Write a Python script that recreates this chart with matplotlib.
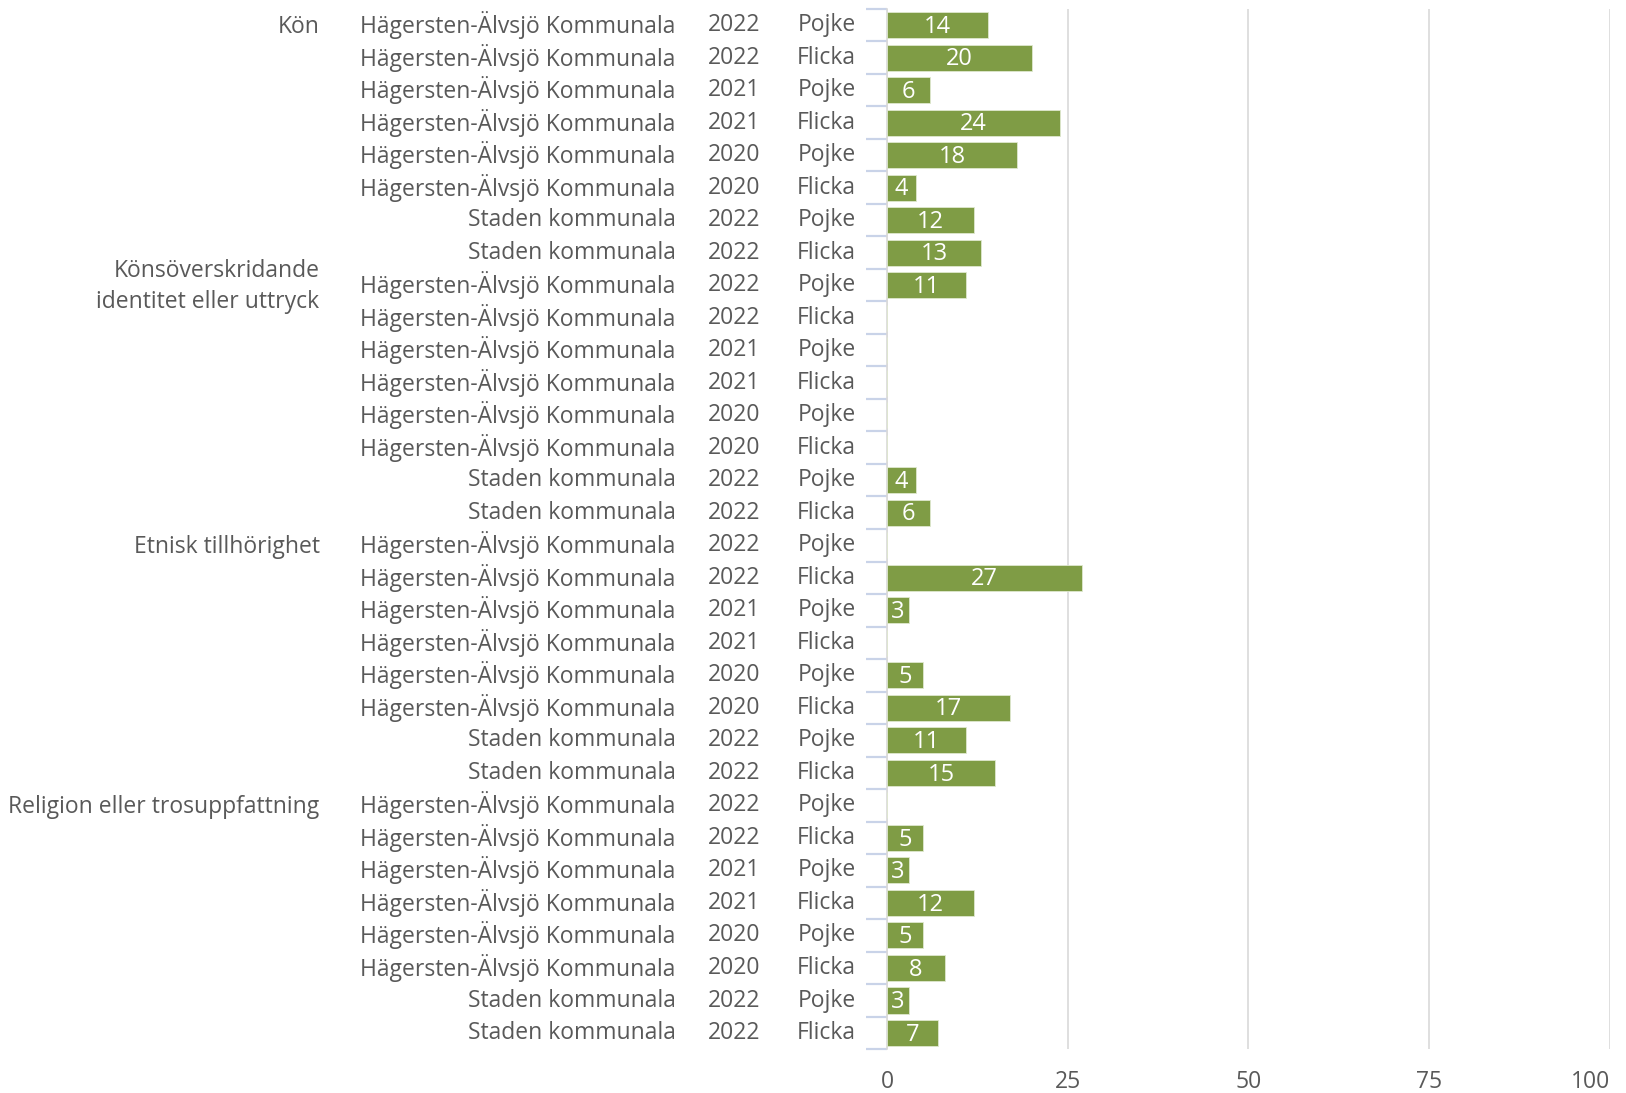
import matplotlib
matplotlib.use('Agg')
import matplotlib.pyplot as plt
import matplotlib.transforms as mtransforms
import numpy as np

plt.rcParams['font.family'] = ['Open Sans', 'DejaVu Sans']

# data, one entry per row from top to bottom
groups = ['Kön', 'Könsöverskridande\nidentitet eller uttryck',
          'Etnisk tillhörighet', 'Religion eller trosuppfattning']
ha = 'Hägersten-Älvsjö Kommunala'
st = 'Staden kommunala'
regions = [ha, ha, ha, ha, ha, ha, st, st]
years = ['2022', '2022', '2021', '2021', '2020', '2020', '2022', '2022']
genders = ['Pojke', 'Flicka', 'Pojke', 'Flicka', 'Pojke', 'Flicka', 'Pojke', 'Flicka']

values_kon = [14, 20, 6, 24, 18, 4, 12, 13]
values_kons = [11, None, None, None, None, None, 4, 6]
values_etnisk = [None, 27, 3, None, 5, 17, 11, 15]
values_religion = [None, 5, 3, 12, 5, 8, 3, 7]

all_values = values_kon + values_kons + values_etnisk + values_religion
n = len(all_values)

text_col = '#595959'
bar_col = '#7f9c45'
fs = 16.5

fig = plt.figure(figsize=(16.26, 10.93), dpi=100)
ax = fig.add_axes([0.5455, 0.040, 0.4445, 0.952])

y = np.arange(n)
vals = np.array([np.nan if v is None else v for v in all_values], dtype=float)
ax.barh(y, np.nan_to_num(vals), height=0.8, color=bar_col, edgecolor='#dfe8cf', linewidth=0.6, zorder=3)

for i, v in enumerate(all_values):
    if v is None:
        continue
    ax.text(v / 2, i + 0.05, str(v), ha='center', va='center', color='white', fontsize=17, zorder=4)

ax.set_xlim(0, 100)
ax.set_ylim(n - 0.5, -0.5)
ax.set_xticks([0, 25, 50, 75, 100])
xl = ax.set_xticklabels(['0', '25', '50', '75', '100'], color=text_col, fontsize=fs)
xl[-1].set_horizontalalignment('right')
ax.tick_params(axis='x', length=0, pad=15)
ax.grid(axis='x', color='#d9d9d9', linewidth=1.2, zorder=0)

# ticks between rows
ax.set_yticks(np.arange(n + 1) - 0.5)
ax.set_yticklabels([])
ax.tick_params(axis='y', length=15, width=1.6, color='#c9d3e8', direction='out')

for s in ['top', 'right', 'bottom']:
    ax.spines[s].set_visible(False)
ax.spines['left'].set_color('#d9d9d9')
ax.spines['left'].set_linewidth(1.2)

trans = mtransforms.blended_transform_factory(fig.transFigure, ax.transData)
for g in range(4):
    for j in range(8):
        row = g * 8 + j
        ax.text(0.4155, row, regions[j], transform=trans, ha='right', va='center', color=text_col, fontsize=fs)
        ax.text(0.4675, row, years[j], transform=trans, ha='right', va='center', color=text_col, fontsize=fs)
        ax.text(0.5262, row, genders[j], transform=trans, ha='right', va='center', color=text_col, fontsize=fs)
    ax.text(0.1965, g * 8 + 0.05, groups[g], transform=trans, ha='right', va='center', color=text_col,
            fontsize=fs, linespacing=1.38)

fig.savefig('out.png', dpi=100)
